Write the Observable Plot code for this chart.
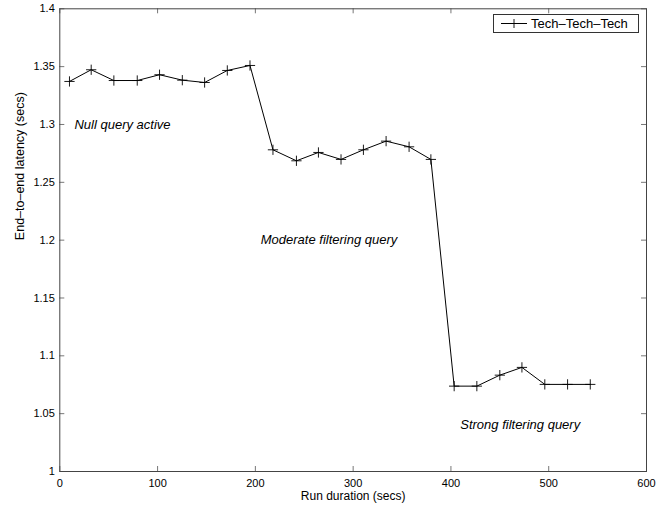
<!DOCTYPE html>
<html>
<head>
<meta charset="utf-8">
<script src="https://cdn.jsdelivr.net/npm/d3@7"></script>
<script src="https://cdn.jsdelivr.net/npm/@observablehq/plot@0.6"></script>
<style>
  html, body { margin: 0; padding: 0; background: #fff; }
  #wrap { position: relative; width: 660px; height: 507px; font-family: "Liberation Sans", Arial, Helvetica, sans-serif; }
  #legend { position: absolute; left: 493px; top: 14px; width: 144px; height: 17px; border: 1px solid #333; background: #fff; display: flex; align-items: center; font-size: 13px; color: #000; }
  #legend svg { display: block; margin-left: 7px; margin-right: 4px; }
</style>
</head>
<body>
<div id="wrap"></div>
<script>
// Data
const runDuration = [9.9, 32.1, 55.3, 79.2, 102, 125.3, 148.1, 171.3, 194.5, 218, 242, 264.5, 287.6, 310.5, 333.7, 357.2, 379.5, 403.3, 426.5, 450, 472.6, 496, 519.3, 542.5];
const latency = [1.3372, 1.3473, 1.338, 1.338, 1.343, 1.3383, 1.3363, 1.3467, 1.351, 1.2781, 1.2686, 1.2758, 1.2698, 1.2781, 1.2856, 1.2807, 1.2698, 1.0738, 1.0738, 1.0833, 1.09, 1.0753, 1.0753, 1.0753];
const seriesName = "Tech\u2013Tech\u2013Tech";
const xTicks = [0, 100, 200, 300, 400, 500, 600];
const yTicks = [1, 1.05, 1.1, 1.15, 1.2, 1.25, 1.3, 1.35, 1.4];
const annotationText = ["Null query active", "Moderate filtering query", "Strong filtering query"];
const annotationX = [15, 205.5, 409.5];
const annotationY = [1.3, 1.2, 1.04];

const data = runDuration.map((x, i) => ({x, y: latency[i]}));
const notes = annotationText.map((t, i) => ({t, x: annotationX[i], y: annotationY[i]}));

const W = 660, H = 507;
const mL = 59.3, mR = 14, mT = 8.3, mB = 36;
const plotH = H - mT - mB, plotW = W - mL - mR;
const tk = 5;
const font = '"Liberation Sans", Arial, Helvetica, sans-serif';

const chart = Plot.plot({
  width: W, height: H,
  marginLeft: mL, marginRight: mR, marginTop: mT, marginBottom: mB,
  style: {fontFamily: font, background: "#fff", color: "#000"},
  x: {domain: [0, 600]},
  y: {domain: [1, 1.4]},
  marks: [
    // inward tick marks on all four sides
    Plot.ruleX(xTicks, {x: d => d, insetTop: plotH - tk, stroke: "#777", strokeWidth: 1}),
    Plot.ruleX(xTicks, {x: d => d, insetBottom: plotH - tk, stroke: "#777", strokeWidth: 1}),
    Plot.ruleY(yTicks, {y: d => d, insetRight: plotW - tk, stroke: "#777", strokeWidth: 1}),
    Plot.ruleY(yTicks, {y: d => d, insetLeft: plotW - tk, stroke: "#777", strokeWidth: 1}),
    Plot.frame({stroke: "#444", strokeWidth: 1}),
    Plot.axisX({ticks: xTicks, tickSize: 0, tickPadding: 7.5, fontSize: 11, label: null, tickFormat: d => String(d)}),
    Plot.axisY({ticks: yTicks, tickSize: 0, tickPadding: 5, fontSize: 11, label: null, tickFormat: d => String(+d.toFixed(2))}),
    Plot.text(["Run duration (secs)"], {text: d => d, frameAnchor: "bottom", lineAnchor: "bottom", dy: 28, fontSize: 12, fill: "#000"}),
    Plot.text(["End\u2013to\u2013end latency (secs)"], {text: d => d, frameAnchor: "left", dx: -39.5, rotate: -90, fontSize: 12.5, fill: "#000"}),
    Plot.line(data, {x: "x", y: "y", stroke: "#000", strokeWidth: 1}),
    Plot.dot(data, {x: "x", y: "y", symbol: "plus", r: 3.4, stroke: "#000", strokeWidth: 0.9}),
    Plot.text(notes, {x: "x", y: "y", text: "t", textAnchor: "start", fontStyle: "italic", fontSize: 13, fill: "#000"})
  ]
});

const wrap = document.getElementById("wrap");
wrap.appendChild(chart);

const legend = document.createElement("div");
legend.id = "legend";
legend.innerHTML = `<svg width="26" height="11"><line x1="0" y1="5.5" x2="26" y2="5.5" stroke="#000" stroke-width="1"/><line x1="13" y1="1" x2="13" y2="10" stroke="#000" stroke-width="0.9"/></svg><span></span>`;
legend.querySelector("span").textContent = seriesName;
wrap.appendChild(legend);
</script>
</body>
</html>
